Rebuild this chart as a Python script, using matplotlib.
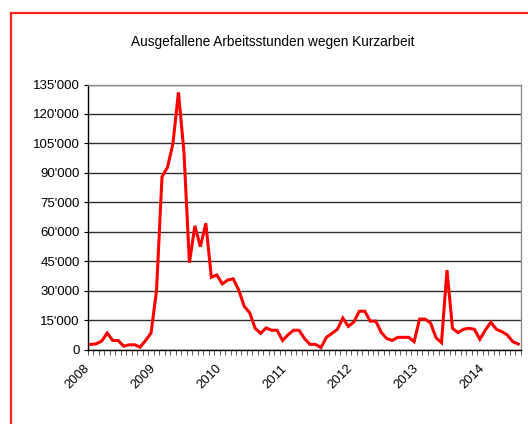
import matplotlib
matplotlib.use("Agg")
import matplotlib.pyplot as plt
import matplotlib.transforms as mtransforms
from matplotlib.lines import Line2D
from matplotlib.ticker import FixedLocator, FuncFormatter, MultipleLocator


title: str = "Ausgefallene Arbeitsstunden wegen Kurzarbeit"

# monthly values, Jan 2008 .. Jul 2014 (hours)
hours_2008 = [2600, 2900, 4300, 8400, 4600, 4600, 1700, 2400, 2400, 1200, 4600, 8400]
hours_2009 = [30000, 88000, 92800, 105000, 131000, 100800, 44200, 63000, 52400, 64300, 36800, 38000]
hours_2010 = [33400, 35400, 36000, 30300, 22000, 18700, 10800, 8200, 11000, 9800, 9800, 4600]
hours_2011 = [7500, 9800, 9800, 5600, 2600, 2600, 1000, 6200, 8200, 10300, 16000, 11800]
hours_2012 = [14000, 19500, 19500, 14400, 14500, 8700, 5600, 4600, 6200, 6200, 6200, 4000]
hours_2013 = [15500, 15500, 13500, 6000, 3500, 40500, 10800, 8600, 10300, 10800, 10300, 5200]
hours_2014 = [9900, 13900, 10300, 9100, 7400, 4000, 2800]

years = ["2008", "2009", "2010", "2011", "2012", "2013", "2014"]


def main() -> None:
    values = hours_2008 + hours_2009 + hours_2010 + hours_2011 + hours_2012 + hours_2013 + hours_2014
    n = len(values)
    x = [i + 0.5 for i in range(n)]

    plt.rcParams["font.family"] = ["Liberation Sans", "DejaVu Sans"]

    fig = plt.figure(figsize=(5.28, 4.24), dpi=100)
    ax = fig.add_axes([0.1667, 0.1757, 0.82, 0.625])

    ax.plot(x, values, color="#ff0000", linewidth=2.2, solid_joinstyle="miter", zorder=3)

    ax.set_xlim(0, n)
    ax.set_ylim(0, 135000)

    ax.yaxis.set_major_locator(MultipleLocator(15000))
    ax.yaxis.set_major_formatter(FuncFormatter(lambda v, p: f"{v:,.0f}".replace(",", "'")))
    ax.grid(axis="y", color="#2e2e2e", linewidth=1.0, zorder=1)

    ax.xaxis.set_major_locator(FixedLocator([12 * k for k in range(len(years))]))
    ax.xaxis.set_minor_locator(FixedLocator(list(range(n + 1))))
    ax.set_xticklabels(years, rotation=45, ha="right", va="center",
                       rotation_mode="anchor", fontsize=9.3)
    shift = mtransforms.ScaledTranslation(3 / 100, 0, fig.dpi_scale_trans)
    for lbl in ax.get_xticklabels():
        lbl.set_transform(lbl.get_transform() + shift)

    ax.tick_params(axis="y", direction="out", length=3, width=0.8, labelsize=9.5, pad=3)
    ax.tick_params(axis="x", which="both", direction="out", length=3.8, width=0.7,
                   color="#555555", pad=8.5)

    for side in ["top", "right"]:
        ax.spines[side].set_color("#8c8c8c")
        ax.spines[side].set_linewidth(1.0)
    for side in ["left", "bottom"]:
        ax.spines[side].set_color("black")
        ax.spines[side].set_linewidth(1.0)

    fig.text(0.516, 0.9017, title, ha="center", va="center", fontsize=9.8)

    # red frame, cut off at right and bottom
    fig.add_artist(Line2D([11 / 528, 11 / 528], [0, 1 - 13 / 424], color="#ff2020", linewidth=1.6))
    fig.add_artist(Line2D([11 / 528, 1], [1 - 13 / 424, 1 - 13 / 424], color="#ff2020", linewidth=1.6))

    fig.savefig("out.png", dpi=100)


if __name__ == "__main__":
    main()
